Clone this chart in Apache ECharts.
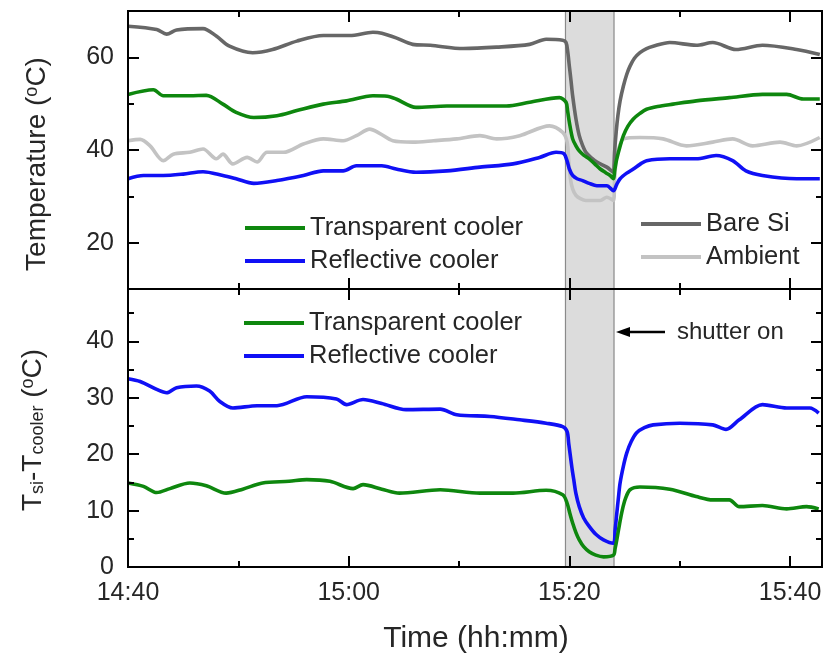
<!DOCTYPE html>
<html>
<head>
<meta charset="utf-8">
<script src="https://cdn.jsdelivr.net/npm/echarts@6/dist/echarts.min.js"></script>
<style>html,body{margin:0;padding:0;background:#fff}#c{width:825px;height:662px}</style>
</head>
<body>
<div id="c"></div>
<script>
// x values are minutes after 14:40
const timeTicks = [0, 20, 40, 60];
const timeTickLabels = ['14:40', '15:00', '15:20', '15:40'];
const timeMinor = [10, 30, 50];
const shutter = [39.65, 44.05];

const topTicks = [20, 40, 60];
const topMinor = [10, 30, 50, 70];
const botTicks = [0, 10, 20, 30, 40];
const botMinor = [5, 15, 25, 35, 45];

const bareSi = [[0,66.7],[2.6,66.0],[3.5,65.0],[4.4,65.9],[6.8,66.2],[8.0,64.6],[9.2,62.4],[11.3,61.0],[13.1,61.7],[15.3,63.5],[17.7,64.7],[20.1,64.7],[22.2,65.4],[23.0,65.2],[24.3,64.2],[25.8,62.8],[27.4,62.6],[30.4,61.9],[33.4,62.2],[36.4,62.8],[37.9,63.9],[39.4,63.7],[39.7,63.2],[39.85,61.3],[40.0,58.1],[40.15,55.0],[40.3,51.7],[40.6,46.7],[40.9,43.1],[41.2,41.0],[41.5,39.5],[42.0,38.3],[42.5,37.4],[43.4,36.3],[44.0,35.2],[44.05,36.6],[44.1,39.5],[44.25,44.0],[44.4,47.4],[44.6,50.6],[44.9,53.8],[45.2,56.3],[45.5,58.1],[45.9,59.8],[46.4,61.0],[47.0,61.9],[47.6,62.4],[49.1,63.2],[51.5,62.6],[53.0,63.2],[55.1,61.7],[57.5,62.6],[60.6,61.7],[62.7,60.6]];
const ambient = [[0,42.0],[1.1,42.3],[2.0,40.9],[3.2,37.7],[4.1,39.1],[5.6,39.5],[6.8,40.2],[8.0,38.1],[8.6,39.1],[9.5,37.0],[10.8,38.4],[11.7,37.4],[12.6,39.5],[14.1,39.5],[15.9,41.3],[17.7,42.4],[19.5,42.0],[20.7,43.1],[21.9,44.5],[22.8,43.6],[24.0,42.0],[25.8,41.7],[27.7,42.0],[29.8,42.4],[31.9,43.1],[33.4,42.4],[35.5,43.1],[38.2,45.2],[39.4,43.8],[39.8,41.7],[39.95,37.5],[40.1,33.8],[40.3,31.6],[40.6,30.2],[41.0,29.5],[41.5,29.1],[42.8,29.1],[43.4,29.8],[44.0,29.1],[44.1,33.5],[44.2,36.8],[44.3,38.8],[44.6,41.2],[44.9,42.4],[46.4,42.7],[48.5,42.4],[50.6,40.9],[53.0,41.7],[54.8,42.4],[56.6,40.9],[59.1,41.7],[60.6,40.9],[62.7,42.7]];
const transTop = [[0,52.0],[2.3,53.0],[3.2,51.7],[5.6,51.7],[7.1,51.8],[8.6,49.9],[9.8,48.1],[11.4,47.0],[13.5,47.4],[15.3,48.5],[17.7,49.9],[19.8,50.6],[22.2,51.7],[23.5,51.6],[24.3,51.0],[26.1,49.2],[28.9,49.5],[31.9,49.5],[34.3,49.5],[36.4,50.3],[39.1,51.3],[39.7,50.3],[39.85,48.3],[40.0,46.0],[40.3,42.4],[40.6,40.9],[40.9,39.8],[41.3,38.9],[41.8,38.1],[42.3,37.0],[42.8,35.9],[43.3,35.1],[43.7,34.5],[44.0,33.8],[44.1,35.4],[44.2,36.9],[44.3,38.1],[44.6,40.8],[44.9,43.1],[45.3,45.1],[45.8,46.7],[46.4,47.9],[47.0,48.8],[48.0,49.4],[49.4,49.9],[51.5,50.6],[54.5,51.3],[57.5,52.0],[59.7,52.0],[61.2,51.0],[62.7,51.0]];
const reflTop = [[0,33.8],[1.4,34.5],[3.2,34.5],[5.0,34.8],[6.8,35.3],[8.6,34.5],[9.8,33.8],[11.4,32.8],[13.5,33.4],[15.9,34.5],[17.7,35.5],[19.5,35.5],[20.7,36.6],[23.0,36.6],[24.3,35.9],[26.1,35.2],[28.9,35.5],[31.9,36.3],[34.9,37.0],[37.3,38.4],[38.8,39.5],[39.5,39.2],[39.8,37.6],[40.0,35.9],[40.3,34.5],[40.7,33.8],[41.2,33.4],[41.8,32.8],[42.5,32.3],[43.4,32.3],[44.0,31.2],[44.3,32.6],[44.6,33.8],[45.2,35.0],[45.8,35.9],[46.4,36.9],[47.0,37.7],[49.1,38.1],[51.5,38.1],[53.3,38.8],[54.8,37.7],[56.0,35.5],[57.5,34.5],[60.6,33.8],[62.7,33.8]];
const reflDiff = [[0,33.4],[1.1,32.9],[2.6,31.5],[3.5,30.9],[4.4,31.8],[6.2,32.1],[7.4,31.2],[8.3,29.4],[9.5,28.2],[11.7,28.6],[13.5,28.6],[16.2,30.2],[18.9,29.8],[19.8,28.8],[21.3,29.7],[23.0,29.0],[25.2,27.9],[28.3,28.0],[29.8,27.0],[32.8,26.7],[35.5,26.1],[37.9,25.5],[39.4,24.9],[39.8,24.0],[39.95,21.8],[40.1,19.6],[40.25,17.4],[40.4,15.5],[40.6,13.0],[40.9,10.7],[41.3,8.7],[41.8,7.2],[42.4,5.8],[43.1,4.8],[44.0,4.2],[44.15,6.6],[44.3,9.5],[44.45,12.3],[44.6,14.9],[44.9,17.9],[45.2,20.2],[45.6,22.2],[46.1,23.8],[46.8,24.7],[47.6,25.2],[50.0,25.5],[53.0,25.2],[54.2,24.4],[55.4,26.1],[57.5,28.8],[59.7,28.2],[61.8,28.2],[62.6,27.3]];
const transDiff = [[0,14.9],[1.4,14.3],[2.6,13.2],[3.8,13.9],[5.6,14.9],[7.1,14.4],[8.9,13.1],[10.4,13.8],[12.2,14.9],[14.6,15.2],[16.2,15.5],[18.3,15.2],[20.4,13.9],[21.3,14.6],[23.0,13.8],[24.6,13.1],[28.3,13.7],[31.9,13.1],[34.9,13.1],[37.9,13.6],[39.4,12.8],[39.8,11.3],[40.05,9.5],[40.3,7.8],[40.6,6.1],[40.9,4.8],[41.3,3.6],[41.8,2.7],[42.4,2.1],[43.1,1.8],[44.0,2.1],[44.15,3.3],[44.3,4.8],[44.55,7.6],[44.8,10.1],[45.1,12.2],[45.5,13.7],[46.4,14.2],[49.1,13.8],[51.5,12.5],[53.0,11.9],[54.5,11.9],[55.4,10.7],[57.5,10.9],[59.7,10.3],[61.5,10.7],[62.6,10.3]];

const FONT = 'Liberation Sans, Arial, sans-serif';
const TXT = '#262626';
const C_GREEN = '#0e870e', C_BLUE = '#1010f5', C_DARK = '#676767', C_LIGHT = '#c3c3c3';

function axis(grid, pos, min, max, vals, len, labels, fmt) {
  return {
    type: 'value', gridIndex: grid, position: pos, min: min, max: max, z: 10,
    axisLine: { show: true, onZero: false, lineStyle: { color: '#000', width: 2 } },
    axisTick: { show: true, inside: true, length: len, customValues: vals, lineStyle: { color: '#000', width: 2 } },
    axisLabel: { show: !!labels, customValues: vals, margin: 14, fontSize: 25, fontFamily: FONT, color: TXT, formatter: fmt },
    splitLine: { show: false }
  };
}
const tfmt = v => { const i = timeTicks.indexOf(Math.round(v)); return i >= 0 ? timeTickLabels[i] : ''; };
const xAxes = [];
const yAxes = [];
[0, 1].forEach(g => {
  xAxes.push(axis(g, 'bottom', 0, 62.9, timeTicks, 11, g === 1, tfmt));
  xAxes.push(axis(g, 'bottom', 0, 62.9, timeMinor, 6, false));
  xAxes.push(axis(g, 'top', 0, 62.9, timeTicks, 11, false));
  xAxes.push(axis(g, 'top', 0, 62.9, timeMinor, 6, false));
  const mn = g === 0 ? 10 : 0, mx = g === 0 ? 70 : 49.3;
  const maj = g === 0 ? topTicks : botTicks, mnr = g === 0 ? topMinor : botMinor;
  yAxes.push(axis(g, 'left', mn, mx, maj, 11, true, v => String(v)));
  yAxes.push(axis(g, 'left', mn, mx, mnr, 6, false));
  yAxes.push(axis(g, 'right', mn, mx, maj, 11, false));
  yAxes.push(axis(g, 'right', mn, mx, mnr, 6, false));
});

function line(name, data, color, g) {
  return {
    name: name, type: 'line', data: data, xAxisIndex: g * 4, yAxisIndex: g * 4,
    showSymbol: false, symbol: 'none', smooth: 0.3, z: 3,
    lineStyle: { color: color, width: 3.6 }, itemStyle: { color: color }
  };
}
function shade(g) {
  return {
    name: 'shutter' + g, type: 'line', data: [], xAxisIndex: g * 4, yAxisIndex: g * 4, z: 1,
    markArea: { silent: true, itemStyle: { color: '#dcdcdc', borderColor: '#8a8a8a', borderWidth: 1.2 },
      data: [[{ xAxis: shutter[0] }, { xAxis: shutter[1] }]] }
  };
}

const legendBase = {
  orient: 'vertical', selectedMode: false, icon: 'rect', itemWidth: 60, itemHeight: 4, itemGap: 7,
  textStyle: { fontSize: 25.5, fontFamily: FONT, color: TXT, lineHeight: 26 }
};

const option = {
  animation: false,
  backgroundColor: '#fff',
  grid: [
    { left: 128, right: 3, top: 11, height: 278 },
    { left: 128, right: 3, top: 289, height: 278 }
  ],
  xAxis: xAxes,
  yAxis: yAxes,
  legend: [
    Object.assign({}, legendBase, { left: 240, top: 210, data: ['Transparent cooler', 'Reflective cooler'] }),
    Object.assign({}, legendBase, { left: 636, top: 206, data: ['Bare Si', 'Ambient'] }),
    Object.assign({}, legendBase, { left: 239, top: 305, data: ['Transparent cooler', 'Reflective cooler'] })
  ],
  series: [
    shade(0), shade(1),
    line('Ambient', ambient, C_LIGHT, 0),
    line('Bare Si', bareSi, C_DARK, 0),
    line('Reflective cooler', reflTop, C_BLUE, 0),
    line('Transparent cooler', transTop, C_GREEN, 0),
    line('Reflective cooler', reflDiff, C_BLUE, 1),
    line('Transparent cooler', transDiff, C_GREEN, 1)
  ],
  graphic: [
    { type: 'text', x: 37, y: 164, rotation: Math.PI / 2,
      style: { text: 'Temperature ({sup|o}C)', fontSize: 28, fontFamily: FONT, fill: TXT, align: 'center', verticalAlign: 'middle',
        rich: { sup: { fontSize: 18, fontFamily: FONT, fill: TXT, verticalAlign: 'top' } } } },
    { type: 'text', x: 33, y: 430, rotation: Math.PI / 2,
      style: { text: 'T{sub|si}-T{sub|cooler} ({sup|o}C)', fontSize: 28, fontFamily: FONT, fill: TXT, align: 'center', verticalAlign: 'middle',
        rich: { sub: { fontSize: 18, fontFamily: FONT, fill: TXT, verticalAlign: 'bottom' },
                sup: { fontSize: 18, fontFamily: FONT, fill: TXT, verticalAlign: 'top' } } } },
    { type: 'text', x: 476, y: 639,
      style: { text: 'Time (hh:mm)', fontSize: 30, fontFamily: FONT, fill: TXT, align: 'center', verticalAlign: 'middle' } },
    { type: 'line', shape: { x1: 626, y1: 332, x2: 665, y2: 332 }, style: { stroke: '#000', lineWidth: 2.5 }, z: 20 },
    { type: 'polygon', shape: { points: [[616, 332], [630, 327], [630, 337]] }, style: { fill: '#000' }, z: 20 },
    { type: 'text', x: 677, y: 332,
      style: { text: 'shutter on', fontSize: 24, fontFamily: FONT, fill: TXT, align: 'left', verticalAlign: 'middle' } }
  ]
};

const chart = echarts.init(document.getElementById('c'), null, { renderer: 'canvas' });
chart.setOption(option);
</script>
</body>
</html>
